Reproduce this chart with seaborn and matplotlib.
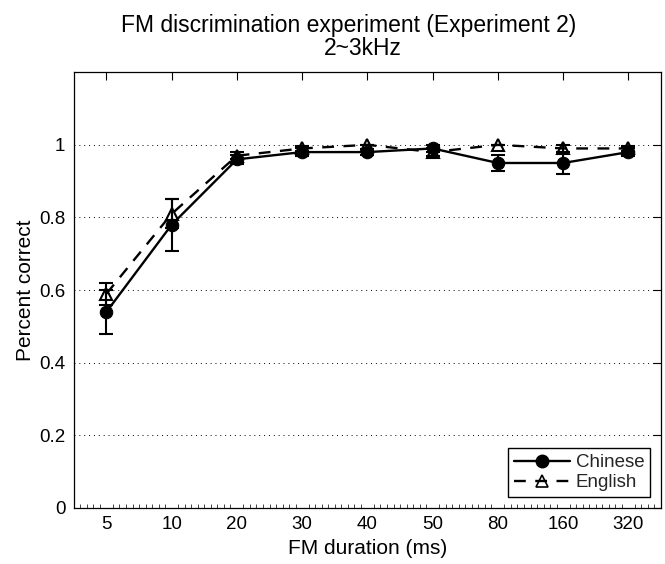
import matplotlib
matplotlib.use("Agg")
import matplotlib.pyplot as plt
from matplotlib.ticker import MultipleLocator
from matplotlib.lines import Line2D
import numpy as np
import pandas as pd
import seaborn as sns

durations = ["5", "10", "20", "30", "40", "50", "80", "160", "320"]
chinese_mean = [0.54, 0.78, 0.96, 0.98, 0.98, 0.99, 0.95, 0.95, 0.98]
chinese_err = [0.06, 0.072, 0.012, 0.01, 0.008, 0.01, 0.023, 0.03, 0.01]
english_mean = [0.59, 0.81, 0.97, 0.99, 1.00, 0.98, 1.00, 0.99, 0.99]
english_err = [0.03, 0.04, 0.01, 0.008, 0.0, 0.01, 0.0, 0.01, 0.008]
groups = ["Chinese", "English"]
title_lines = ["FM discrimination experiment (Experiment 2)", "2~3kHz"]

sns.set_theme(style="white")
plt.rcParams["font.family"] = ["Liberation Sans", "DejaVu Sans"]

pos = np.arange(1, len(durations) + 1)
df = pd.DataFrame({
    "pos": np.concatenate([pos, pos]),
    "score": chinese_mean + english_mean,
    "group": [groups[0]] * len(pos) + [groups[1]] * len(pos),
})

fig = plt.figure(figsize=(6.65, 5.64), dpi=100)
ax = fig.add_axes([0.111, 0.0993, 0.883, 0.7727])

# error bars first so the markers sit on top
ax.errorbar(pos, chinese_mean, yerr=chinese_err, fmt="none", ecolor="black",
            elinewidth=1.5, capsize=5, capthick=1.5, zorder=2)
ax.errorbar(pos, english_mean, yerr=english_err, fmt="none", ecolor="black",
            elinewidth=1.5, capsize=5, capthick=1.5, zorder=2)

sns.lineplot(data=df, x="pos", y="score", style="group", hue="group",
             palette=["black", "black"], markers={"Chinese": "o", "English": "^"},
             dashes={"Chinese": "", "English": (5, 4)}, linewidth=1.7,
             markersize=9, ax=ax, zorder=3, legend=False)

for ln in ax.get_lines():
    if ln.get_marker() == "^":
        ln.set_markerfacecolor("none")
        ln.set_markeredgecolor("black")
        ln.set_markeredgewidth(1.5)
        ln.set_markersize(8)
    elif ln.get_marker() == "o":
        ln.set_markerfacecolor("black")
        ln.set_markeredgecolor("black")

handles = [
    Line2D([], [], color="black", lw=1.7, marker="o", markersize=9,
           markerfacecolor="black"),
    Line2D([], [], color="black", lw=1.7, ls=(0, (5, 4)), marker="^", markersize=8,
           markerfacecolor="none", markeredgewidth=1.2),
]
leg = ax.legend(handles, groups, loc="lower right", fontsize=13.5, frameon=True,
                fancybox=False, edgecolor="black", framealpha=1,
                handlelength=3.0, borderpad=0.3, labelspacing=0.15,
                handletextpad=0.3, borderaxespad=0.6)
leg.get_frame().set_linewidth(1.0)

ax.set_xlim(0.5, 9.5)
ax.set_ylim(0, 1.2)
ax.set_xticks(pos)
ax.set_xticklabels(durations)
ax.xaxis.set_minor_locator(MultipleLocator(0.1))
ax.set_yticks([0, 0.2, 0.4, 0.6, 0.8, 1.0])
ax.set_yticklabels(["0", "0.2", "0.4", "0.6", "0.8", "1"])
ax.tick_params(axis="both", which="major", direction="in", length=6, width=0.8,
               labelsize=13.5, top=True, right=True, colors="black", pad=6)
ax.tick_params(axis="x", which="minor", direction="in", length=3, width=0.6,
               bottom=True, top=False)
for s in ax.spines.values():
    s.set_color("black")
    s.set_linewidth(0.9)

ax.yaxis.grid(True, linestyle=(0, (1, 4)), color="black", linewidth=0.7)
ax.xaxis.grid(False)
ax.set_axisbelow(True)

ax.set_xlabel("FM duration (ms)", fontsize=15, color="black", labelpad=4)
ax.set_ylabel("Percent correct", fontsize=15, color="black", labelpad=3)

# two-line heading
fig.text(349 / 665, 1 - 32 / 564, title_lines[0], fontsize=16.5, color="black",
         ha="center", va="baseline")
fig.text(363 / 665, 1 - 55 / 564, title_lines[1], fontsize=16.5, color="black",
         ha="center", va="baseline")

fig.savefig("out.png", dpi=100)
